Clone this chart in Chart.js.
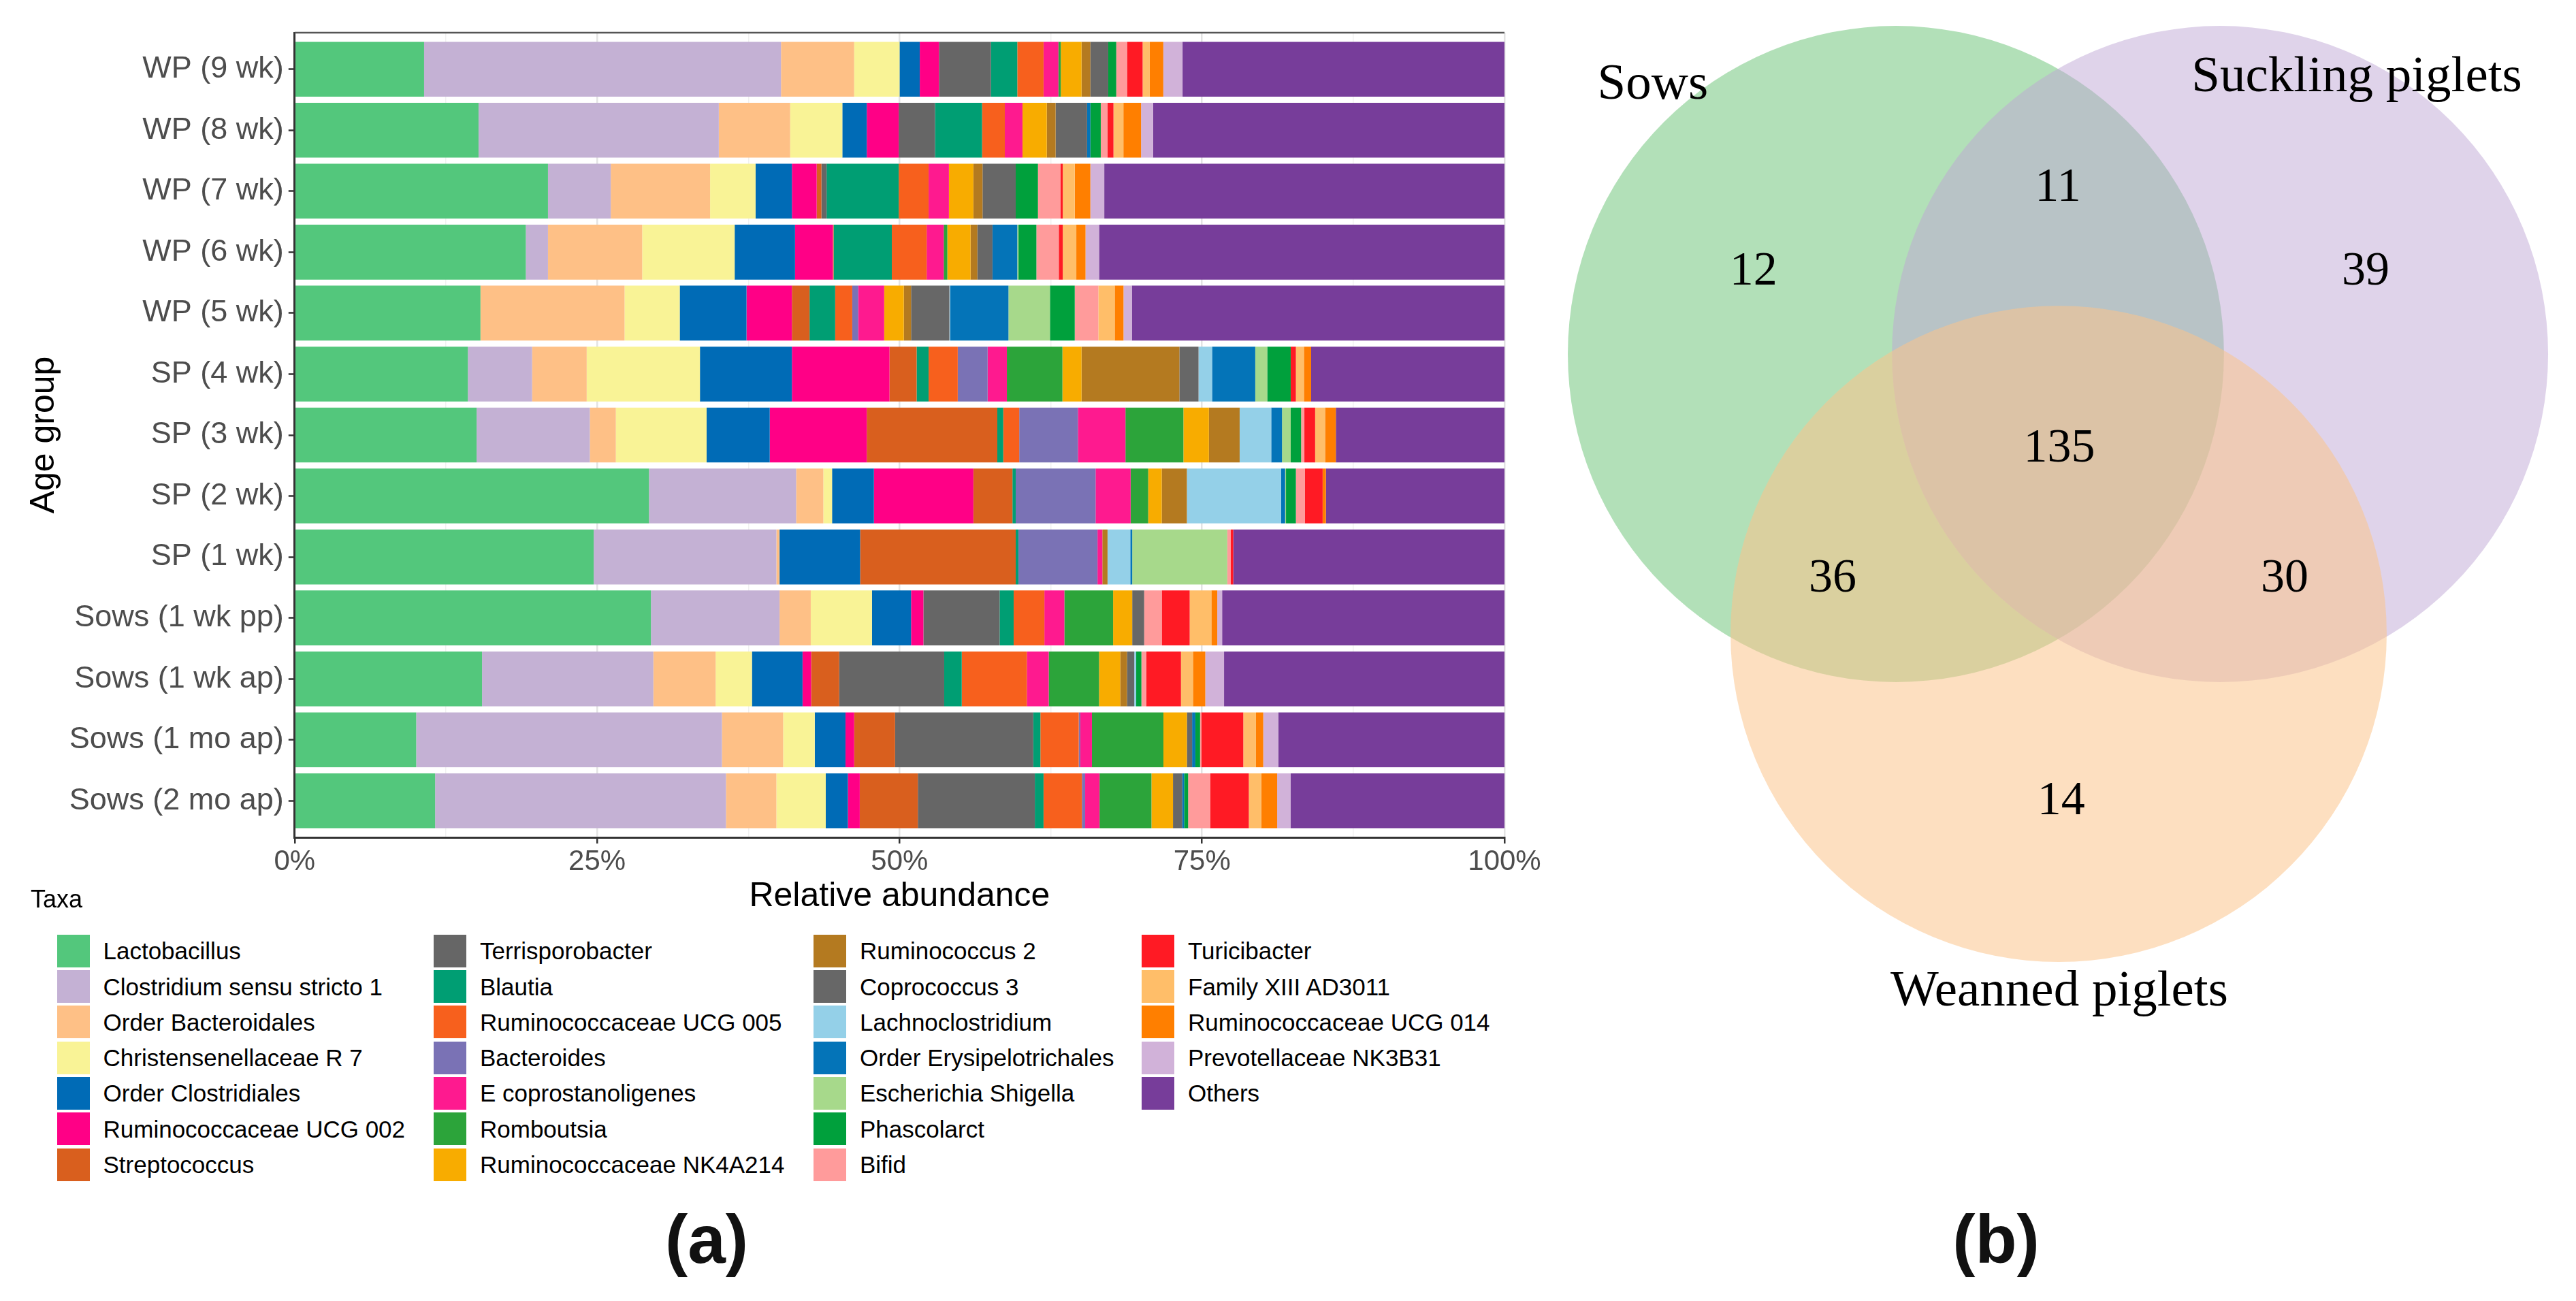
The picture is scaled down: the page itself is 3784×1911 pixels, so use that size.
<!DOCTYPE html>
<html>
<head>
<meta charset="utf-8">
<script src="https://cdn.jsdelivr.net/npm/chart.js@4.4.1/dist/chart.umd.min.js"></script>
<style>
  html, body { margin: 0; padding: 0; background: #fff; }
  body { width: 3784px; height: 1911px; position: relative; overflow: hidden; font-family: 'Liberation Sans', Arial, sans-serif; }
  #barBox { position: absolute; left: 0; top: 0; width: 2300px; height: 1350px; }
  #vennBox { position: absolute; left: 2250px; top: 0; width: 1534px; height: 1520px; }
  .legend-title { position: absolute; left: 45px; top: 1303px; font-size: 36px; line-height: 36px; color: #000; }
  .key-item { position: absolute; display: flex; align-items: center; height: 48px; font-size: 35px; line-height: 1; color: #000; white-space: nowrap; }
  .key-item .sw { display: inline-block; width: 48px; height: 48px; margin-right: 20px; }
  .panel-tag { position: absolute; top: 1761px; font-weight: bold; font-size: 100px; line-height: 118px; transform: translateX(-50%); color: #111; }
</style>
</head>
<body>
<div id="barBox"><canvas id="barCanvas"></canvas></div>
<div id="vennBox"><canvas id="vennCanvas"></canvas></div>
<div class="legend-title">Taxa</div>
<div class="panel-tag" style="left:1038px">(a)</div>
<div class="panel-tag" style="left:2932px">(b)</div>

<script>
// ---- data: age groups (top to bottom) ----
const groups = [
  'WP (9 wk)', 'WP (8 wk)', 'WP (7 wk)', 'WP (6 wk)', 'WP (5 wk)',
  'SP (4 wk)', 'SP (3 wk)', 'SP (2 wk)', 'SP (1 wk)',
  'Sows (1 wk pp)', 'Sows (1 wk ap)', 'Sows (1 mo ap)', 'Sows (2 mo ap)'
];

const taxa = [
  'Lactobacillus', 'Clostridium sensu stricto 1', 'Order Bacteroidales', 'Christensenellaceae R 7',
  'Order Clostridiales', 'Ruminococcaceae UCG 002', 'Streptococcus',
  'Terrisporobacter', 'Blautia', 'Ruminococcaceae UCG 005', 'Bacteroides',
  'E  coprostanoligenes', 'Romboutsia', 'Ruminococcaceae NK4A214',
  'Ruminococcus 2', 'Coprococcus 3', 'Lachnoclostridium', 'Order Erysipelotrichales',
  'Escherichia Shigella', 'Phascolarct', 'Bifid',
  'Turicibacter', 'Family XIII AD3011', 'Ruminococcaceae UCG 014', 'Prevotellaceae NK3B31', 'Others'
];

const taxaColors = [
  '#53C77C', '#C4B1D4', '#FEC086', '#F9F396', '#006BB6', '#FF0086', '#D95F1E',
  '#666666', '#009E73', '#F7601D', '#7A72B5', '#FE1A8F', '#2CA43A', '#F8AC00',
  '#B47A20', '#676767', '#94D0E8', '#0474B8', '#A7D98B', '#00A03C', '#FF9B9B',
  '#FF1A24', '#FFBE69', '#FF7F00', '#D1B2D9', '#773D9A'
];

// relative abundance (%) per age group, in the taxa order above
const wp9  = [10.7, 29.5, 6.05, 3.75, 1.67, 1.59, 0, 4.29, 2.18, 2.17, 0, 1.23, 0.2, 1.71, 0.73, 1.48, 0, 0, 0, 0.66, 0.89, 1.29, 0.59, 1.12, 1.59, 26.61];
const wp8  = [15.2, 19.86, 5.9, 4.31, 2.02, 2.64, 0, 3.0, 3.89, 1.88, 0, 1.46, 0, 2.01, 0.73, 2.6, 0, 0.27, 0, 0.86, 0.56, 0.49, 0.82, 1.46, 0.99, 29.05];
const wp7  = [20.94, 5.19, 8.21, 3.76, 3.0, 2.05, 0.39, 0.43, 5.96, 2.47, 0, 1.68, 0, 2.02, 0.76, 2.74, 0, 0, 0, 1.84, 1.85, 0.2, 0.99, 1.29, 1.15, 33.08];
const wp6  = [19.11, 1.83, 7.79, 7.64, 4.99, 3.13, 0.06, 0, 4.81, 2.88, 0, 1.41, 0.3, 1.92, 0.56, 1.25, 0, 2.05, 0.1, 1.48, 1.85, 0.33, 1.12, 0.76, 1.12, 33.51];
const wp5  = [15.36, 0, 11.91, 4.56, 5.52, 3.75, 1.46, 0, 2.12, 1.41, 0.49, 2.15, 0, 1.62, 0.6, 3.17, 0.06, 4.82, 3.43, 2.05, 1.95, 0, 1.35, 0.73, 0.69, 30.8];
const sp4  = [14.32, 5.31, 4.51, 9.36, 7.6, 8.07, 2.24, 0, 0.99, 2.41, 2.47, 1.59, 4.59, 1.58, 8.09, 1.58, 1.12, 3.57, 0.99, 1.94, 0, 0.43, 0.66, 0.6, 0, 15.98];
const sp3  = [15.04, 9.36, 2.15, 7.5, 5.22, 8.02, 10.79, 0, 0.49, 1.32, 4.85, 3.93, 4.79, 2.11, 2.54, 0, 2.61, 0.89, 0.72, 0.86, 0.27, 0.89, 0.82, 0.89, 0, 13.94];
const sp2  = [29.29, 12.16, 2.25, 0.72, 3.46, 8.22, 3.23, 0, 0.27, 0, 6.6, 2.9, 1.45, 1.12, 2.08, 0, 7.79, 0.33, 0.07, 0.82, 0.73, 1.48, 0, 0.27, 0, 14.76];
const sp1  = [24.72, 15.1, 0.26, 0, 6.66, 0, 12.86, 0, 0.23, 0, 6.53, 0.4, 0, 0, 0.43, 0, 1.88, 0.16, 7.86, 0, 0.29, 0.2, 0, 0, 0, 22.42];
const sows1wkpp = [29.45, 10.63, 2.58, 5.06, 3.23, 1.02, 0, 6.3, 1.16, 2.54, 0, 1.65, 4.03, 1.58, 0, 0.99, 0, 0, 0, 0, 1.45, 2.31, 1.79, 0.49, 0.4, 23.34];
const sows1wkap = [15.49, 14.16, 5.15, 3.0, 4.18, 0.71, 2.32, 8.68, 1.45, 5.38, 0, 1.81, 4.16, 1.75, 0.56, 0.6, 0.16, 0, 0, 0.43, 0.4, 2.87, 0.99, 1.02, 1.55, 23.18];
const sows1moap = [10.05, 25.27, 5.06, 2.61, 2.54, 0.72, 3.38, 11.42, 0.59, 3.17, 0.13, 0.96, 5.91, 1.94, 0, 0.43, 0, 0.27, 0, 0.39, 0.1, 3.47, 1.05, 0.6, 1.25, 18.69];
const sows2moap = [11.61, 24.04, 4.17, 4.08, 1.83, 0.98, 4.8, 9.67, 0.72, 3.17, 0.27, 1.19, 4.29, 1.78, 0, 0.76, 0, 0.16, 0, 0.33, 1.82, 3.2, 1.02, 1.32, 1.12, 17.67];

const rows = [wp9, wp8, wp7, wp6, wp5, sp4, sp3, sp2, sp1, sows1wkpp, sows1wkap, sows1moap, sows2moap];

// x axis ticks (major every 25, minor in between)
const xTicks = [0, 12.5, 25, 37.5, 50, 62.5, 75, 87.5, 100];

// ---- data: Venn diagram ----
const vennSets = ['Sows', 'Suckling piglets', 'Weanned piglets'];
const vennColors = ['rgba(101,193,113,0.5)', 'rgba(191,167,213,0.5)', 'rgba(252,196,140,0.55)'];
// circle centres and radius, in units of the circle radius
const vennCx = [0, 0.988, 0.496];
const vennCy = [0, 0, 0.853];
const vennR = [1, 1, 1];
const vennSetLabelX = [-0.741, 1.405, 0.498];
const vennSetLabelY = [-0.778, -0.801, 1.985];
// region counts
const vennCounts = [12, 39, 14, 11, 36, 30, 135];
const vennCountX = [-0.434, 1.432, 0.504, 0.494, -0.193, 1.185, 0.498];
const vennCountY = [-0.249, -0.249, 1.365, -0.504, 0.687, 0.687, 0.290];

const sans = "'Liberation Sans', Arial, sans-serif";
const serif = "'Liberation Serif', 'Times New Roman', serif";

// ---- stacked bar chart (a) ----
const barDatasets = taxa.map(function (name, j) {
  return {
    label: name,
    data: rows.map(function (r, i) { return { x: r[j], y: i + 1 }; }),
    backgroundColor: taxaColors[j],
    borderWidth: 0,
    grouped: false,
    barPercentage: 0.9,
    categoryPercentage: 1
  };
});

// top border of the panel
const panelTop = {
  id: 'panelTop',
  afterDraw(chart) {
    const { ctx, chartArea } = chart;
    ctx.save();
    ctx.strokeStyle = '#555';
    ctx.lineWidth = 2.5;
    ctx.beginPath();
    ctx.moveTo(chartArea.left, chartArea.top);
    ctx.lineTo(chartArea.right, chartArea.top);
    ctx.stroke();
    ctx.restore();
  }
};

const barChart = new Chart(document.getElementById('barCanvas'), {
  type: 'bar',
  data: { datasets: barDatasets },
  options: {
    indexAxis: 'y',
    responsive: true,
    maintainAspectRatio: false,
    animation: false,
    layout: { padding: { top: 48, right: 90, left: 0, bottom: 0 } },
    plugins: { legend: { display: false }, tooltip: { enabled: false } },
    scales: {
      x: {
        type: 'linear',
        stacked: true,
        min: 0,
        max: 100,
        afterBuildTicks: function (axis) { axis.ticks = xTicks.map(function (v) { return { value: v }; }); },
        afterFit: function (axis) { axis.height = 120; },
        ticks: {
          autoSkip: false,
          maxRotation: 0,
          padding: 2,
          color: '#4D4D4D',
          font: { family: sans, size: 42 },
          callback: function (v) { return v % 25 === 0 ? v + '%' : ''; }
        },
        grid: {
          color: function (c) { return c.tick && c.tick.value % 25 === 0 ? '#E3E3E3' : '#F1F1F1'; },
          lineWidth: function (c) { return c.tick && c.tick.value % 25 === 0 ? 2.5 : 1.5; },
          tickColor: function (c) { return c.tick && c.tick.value % 25 === 0 ? '#333' : 'rgba(0,0,0,0)'; },
          tickLength: 9,
          tickWidth: 2.5
        },
        border: { display: true, color: '#333', width: 3 },
        title: {
          display: true,
          text: 'Relative abundance',
          color: '#000',
          font: { family: sans, size: 50 },
          padding: { top: 0, bottom: 3 }
        }
      },
      y: {
        type: 'linear',
        offset: false,
        reverse: true,
        min: 0.4,
        max: 13.6,
        afterBuildTicks: function (axis) { axis.ticks = groups.map(function (g, i) { return { value: i + 1 }; }); },
        afterFit: function (axis) { axis.width = 432.8; },
        ticks: {
          autoSkip: false,
          padding: 7,
          color: '#4D4D4D',
          font: { family: sans, size: 45 },
          callback: function (v) { return groups[v - 1]; }
        },
        grid: { offset: false, drawOnChartArea: false, tickLength: 9, tickColor: '#333', tickWidth: 2.5 },
        border: { display: true, color: '#333', width: 3 },
        title: {
          display: true,
          text: 'Age group',
          color: '#000',
          font: { family: sans, size: 50 },
          padding: { top: 35, bottom: 0 }
        }
      }
    }
  },
  plugins: [panelTop]
});

// ---- legend below the bar chart, filled column by column ----
const legendColX = [83.5, 637, 1195, 1677];
const legendTop = 1372.7;
const legendRowH = 52.3;
taxa.forEach(function (name, i) {
  const col = Math.floor(i / 7), row = i % 7;
  const item = document.createElement('div');
  item.className = 'key-item';
  item.style.left = legendColX[col] + 'px';
  item.style.top = (legendTop + row * legendRowH) + 'px';
  const sw = document.createElement('span');
  sw.className = 'sw';
  sw.style.background = taxaColors[i];
  item.appendChild(sw);
  item.appendChild(document.createTextNode(name));
  document.body.appendChild(item);
});

// ---- Venn diagram (b) ----
function unitPx(chart) {
  const sx = chart.scales.x;
  return sx.getPixelForValue(1) - sx.getPixelForValue(0);
}

const vennText = {
  id: 'vennText',
  afterDatasetsDraw(chart) {
    const { ctx } = chart;
    const sx = chart.scales.x, sy = chart.scales.y;
    ctx.save();
    ctx.fillStyle = '#000';
    ctx.textAlign = 'center';
    ctx.textBaseline = 'alphabetic';
    ctx.font = '75px ' + serif;
    vennSets.forEach(function (s, i) {
      ctx.fillText(s, sx.getPixelForValue(vennSetLabelX[i]), sy.getPixelForValue(vennSetLabelY[i]));
    });
    ctx.textBaseline = 'middle';
    ctx.font = '70px ' + serif;
    vennCounts.forEach(function (n, i) {
      ctx.fillText(String(n), sx.getPixelForValue(vennCountX[i]), sy.getPixelForValue(vennCountY[i]));
    });
    ctx.restore();
  }
};

const vennChart = new Chart(document.getElementById('vennCanvas'), {
  type: 'scatter',
  data: {
    datasets: [{
      data: vennSets.map(function (s, i) { return { x: vennCx[i], y: vennCy[i] }; }),
      pointBackgroundColor: vennColors,
      pointBorderWidth: 0,
      pointRadius: function (c) { return unitPx(c.chart) * vennR[c.dataIndex]; },
      pointHoverRadius: function (c) { return unitPx(c.chart) * vennR[c.dataIndex]; }
    }]
  },
  options: {
    responsive: true,
    maintainAspectRatio: false,
    animation: false,
    layout: { padding: 0 },
    plugins: { legend: { display: false }, tooltip: { enabled: false } },
    scales: {
      x: { type: 'linear', display: false, min: -1.11, max: 2.073 },
      y: { type: 'linear', display: false, reverse: true, min: -1.079, max: 2.075 }
    }
  },
  plugins: [vennText]
});
</script>
</body>
</html>
